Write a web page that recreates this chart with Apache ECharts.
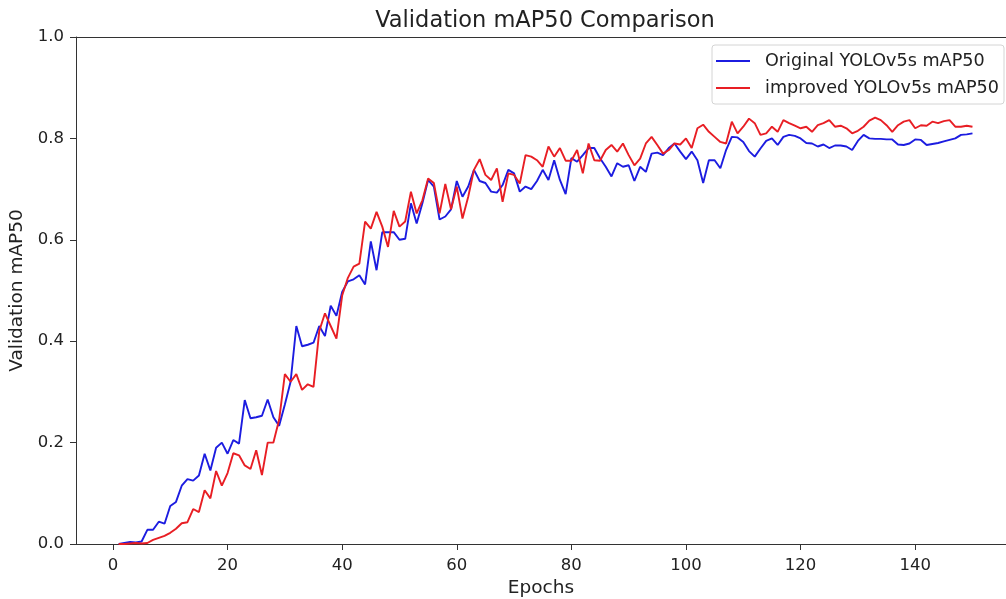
<!DOCTYPE html>
<html lang="en">
<head>
    <meta charset="utf-8" />
    <title>Validation mAP50 Comparison</title>
    <script src="https://cdn.jsdelivr.net/npm/echarts@6/dist/echarts.min.js"></script>
    <style>
        html, body { margin: 0; padding: 0; background: #fff; }
        #main { width: 1006px; height: 599px; }
    </style>
</head>
<body>
<div id="main"></div>
<script>
// validation mAP50 per epoch (epochs 1..150)
var originalMap = [
    0, 0.002, 0.004, 0.003, 0.005, 0.028, 0.028, 0.044, 0.040, 0.075,
    0.083, 0.115, 0.128, 0.125, 0.135, 0.178, 0.145, 0.190, 0.200, 0.178,
    0.205, 0.198, 0.284, 0.248, 0.250, 0.253, 0.285, 0.250, 0.233, 0.275,
    0.320, 0.430, 0.390, 0.393, 0.397, 0.430, 0.410, 0.470, 0.450, 0.497,
    0.518, 0.522, 0.530, 0.512, 0.597, 0.540, 0.615, 0.615, 0.615, 0.600,
    0.602, 0.672, 0.632, 0.672, 0.718, 0.705, 0.640, 0.646, 0.660, 0.716,
    0.685, 0.705, 0.738, 0.716, 0.712, 0.695, 0.693, 0.708, 0.738, 0.731,
    0.695, 0.705, 0.700, 0.716, 0.738, 0.718, 0.757, 0.718, 0.690, 0.761,
    0.754, 0.767, 0.781, 0.781, 0.761, 0.744, 0.725, 0.751, 0.744, 0.747,
    0.716, 0.744, 0.734, 0.770, 0.772, 0.767, 0.781, 0.790, 0.774, 0.759,
    0.774, 0.757, 0.712, 0.757, 0.757, 0.741, 0.777, 0.803, 0.802, 0.793,
    0.775, 0.764, 0.780, 0.795, 0.800, 0.787, 0.803, 0.807, 0.805, 0.800,
    0.791, 0.790, 0.784, 0.788, 0.781, 0.786, 0.786, 0.784, 0.777, 0.795,
    0.807, 0.800, 0.799, 0.799, 0.798, 0.798, 0.788, 0.787, 0.790, 0.798,
    0.797, 0.787, 0.789, 0.791, 0.794, 0.797, 0.800, 0.807, 0.808, 0.810
];
var improvedMap = [
    0, 0, 0.001, 0.002, 0.001, 0.002, 0.008, 0.012, 0.016, 0.022,
    0.030, 0.041, 0.043, 0.069, 0.063, 0.106, 0.090, 0.144, 0.115, 0.140,
    0.179, 0.175, 0.155, 0.148, 0.185, 0.136, 0.200, 0.200, 0.245, 0.335,
    0.320, 0.335, 0.304, 0.315, 0.310, 0.420, 0.455, 0.430, 0.405, 0.490,
    0.525, 0.547, 0.553, 0.636, 0.622, 0.655, 0.626, 0.586, 0.657, 0.626,
    0.636, 0.695, 0.652, 0.678, 0.721, 0.712, 0.652, 0.710, 0.660, 0.705,
    0.642, 0.685, 0.738, 0.759, 0.728, 0.718, 0.741, 0.675, 0.731, 0.728,
    0.711, 0.767, 0.764, 0.757, 0.744, 0.784, 0.764, 0.781, 0.756, 0.756,
    0.777, 0.731, 0.790, 0.757, 0.756, 0.777, 0.787, 0.774, 0.790, 0.767,
    0.747, 0.760, 0.790, 0.803, 0.787, 0.770, 0.777, 0.790, 0.788, 0.800,
    0.781, 0.820, 0.827, 0.813, 0.803, 0.793, 0.790, 0.833, 0.810, 0.823,
    0.839, 0.830, 0.807, 0.810, 0.823, 0.813, 0.836, 0.830, 0.825, 0.820,
    0.823, 0.813, 0.826, 0.830, 0.836, 0.823, 0.825, 0.820, 0.810, 0.815,
    0.823, 0.835, 0.841, 0.836, 0.826, 0.813, 0.826, 0.833, 0.836, 0.820,
    0.826, 0.825, 0.833, 0.830, 0.834, 0.836, 0.823, 0.823, 0.825, 0.823
];
var epochs = originalMap.map(function (v, i) { return i + 1; });
var xTicks = [0, 20, 40, 60, 80, 100, 120, 140];
var seriesNames = ['Original YOLOv5s mAP50', 'improved YOLOv5s mAP50'];

function pairs(vals) {
    return vals.map(function (v, i) { return [epochs[i], v]; });
}

var chartDom = document.getElementById('main');
var myChart = echarts.init(chartDom, null, { renderer: 'canvas' });
var font = 'DejaVu Sans';
var xMin = -6.45, xMax = 155.85; // plot is cut off on the right like the original

var option = {
    animation: false,
    backgroundColor: '#fff',
    textStyle: { fontFamily: font },
    title: {
        text: 'Validation mAP50 Comparison',
        left: 540,
        top: 5,
        textAlign: 'center',
        textStyle: { fontFamily: font, fontSize: 22.5, fontWeight: 'normal', color: '#222' }
    },
    legend: {
        data: seriesNames,
        orient: 'vertical',
        right: 2,
        top: 45,
        padding: [6, 5, 6, 4],
        itemGap: 7,
        itemWidth: 34,
        itemHeight: 2,
        icon: 'rect',
        borderColor: '#d4d4d4',
        borderWidth: 1,
        borderRadius: 3,
        backgroundColor: 'rgba(255,255,255,0.8)',
        textStyle: { fontFamily: font, fontSize: 17.6, lineHeight: 20, color: '#222', padding: [0, 0, 0, 10] }
    },
    grid: {
        left: 76,
        top: 37,
        right: 0,
        height: 507,
        show: false,
        outerBoundsMode: 'none'
    },
    xAxis: [
        {
            type: 'value',
            min: xMin,
            max: xMax,
            name: 'Epochs',
            nameLocation: 'middle',
            nameGap: 34,
            nameTextStyle: { fontFamily: font, fontSize: 18.5, color: '#222' },
            axisLine: { show: true, onZero: false, lineStyle: { color: '#333', width: 1 } },
            axisTick: { show: true, length: 6, customValues: xTicks, lineStyle: { color: '#333' } },
            axisLabel: { customValues: xTicks, fontFamily: font, fontSize: 16.5, color: '#222', margin: 13 },
            splitLine: { show: false }
        },
        {
            // top frame line only
            type: 'value',
            position: 'top',
            min: xMin,
            max: xMax,
            axisLine: { show: true, onZero: false, lineStyle: { color: '#333', width: 1 } },
            axisTick: { show: false },
            axisLabel: { show: false },
            splitLine: { show: false }
        }
    ],
    yAxis: {
        type: 'value',
        min: 0,
        max: 1,
        interval: 0.2,
        name: 'Validation mAP50',
        nameLocation: 'middle',
        nameGap: 43,
        nameTextStyle: { fontFamily: font, fontSize: 18.5, color: '#222' },
        axisLine: { show: true, onZero: false, lineStyle: { color: '#333', width: 1 } },
        axisTick: { show: true, length: 6, lineStyle: { color: '#333' } },
        axisLabel: {
            fontFamily: font, fontSize: 16.5, color: '#222', margin: 12,
            formatter: function (v) { return v.toFixed(1); }
        },
        splitLine: { show: false }
    },
    series: [
        {
            name: seriesNames[0],
            type: 'line',
            xAxisIndex: 0,
            data: pairs(originalMap),
            showSymbol: false,
            symbol: 'none',
            lineStyle: { color: '#1c1ce0', width: 1.9 },
            itemStyle: { color: '#1c1ce0' }
        },
        {
            name: seriesNames[1],
            type: 'line',
            xAxisIndex: 0,
            data: pairs(improvedMap),
            showSymbol: false,
            symbol: 'none',
            lineStyle: { color: '#e81e24', width: 1.9 },
            itemStyle: { color: '#e81e24' }
        }
    ]
};

option && myChart.setOption(option);
</script>
</body>
</html>
